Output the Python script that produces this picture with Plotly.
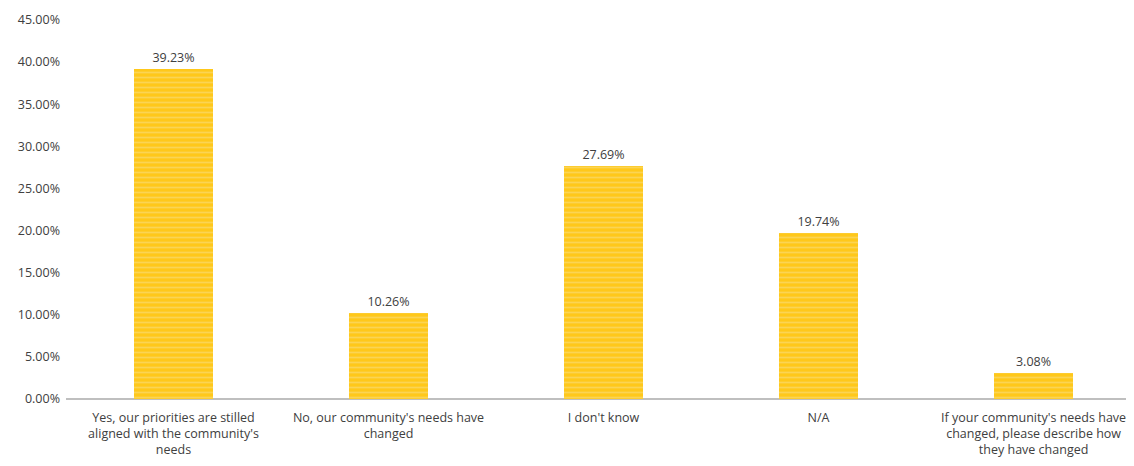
import plotly.graph_objects as go

categories = [
    "Yes, our priorities are stilled<br>aligned with the community's<br>needs",
    "No, our community's needs have<br>changed",
    "I don't know",
    "N/A",
    "If your community's needs have<br>changed, please describe how<br>they have changed",
]
values = [39.23, 10.26, 27.69, 19.74, 3.08]
tick_vals = [0, 5, 10, 15, 20, 25, 30, 35, 40, 45]
tick_text = ["%.2f%%" % v for v in tick_vals]

fig = go.Figure(go.Bar(
    x=list(range(len(categories))),
    y=values,
    width=0.37,
    text=["%.2f%%" % v for v in values],
    textposition="outside",
    textfont=dict(size=12.5, color="#404040"),
    cliponaxis=False,
    marker=dict(
        color="#FFC81A",
        line=dict(width=0),
        pattern=dict(shape="-", fgcolor="#F7E08C", bgcolor="#FFC81A", size=5, solidity=0.35, fillmode="overlay"),
    ),
))

fig.update_layout(
    width=1126, height=458,
    margin=dict(l=58, r=0, t=12, b=67),
    paper_bgcolor="white", plot_bgcolor="white",
    font=dict(family="Open Sans, Liberation Sans, sans-serif", size=12.5, color="#404040"),
    showlegend=False,
    xaxis=dict(
        range=[-0.5, 4.467],
        tickvals=list(range(len(categories))),
        ticktext=categories,
        showgrid=False, zeroline=False,
        showline=False, ticks="",
        automargin=False,
        ticklabelstandoff=9,
        tickfont=dict(size=12.5, color="#404040"),
    ),
    yaxis=dict(
        range=[0, 45],
        tickvals=tick_vals, ticktext=tick_text,
        showgrid=False, zeroline=True, zerolinecolor="#BFBFBF", zerolinewidth=2,
        showline=False, ticks="",
        automargin=False,
        ticklabelstandoff=5,
        tickfont=dict(size=12.5, color="#404040"),
    ),
    bargap=0,
)

fig.write_html("out.html")
